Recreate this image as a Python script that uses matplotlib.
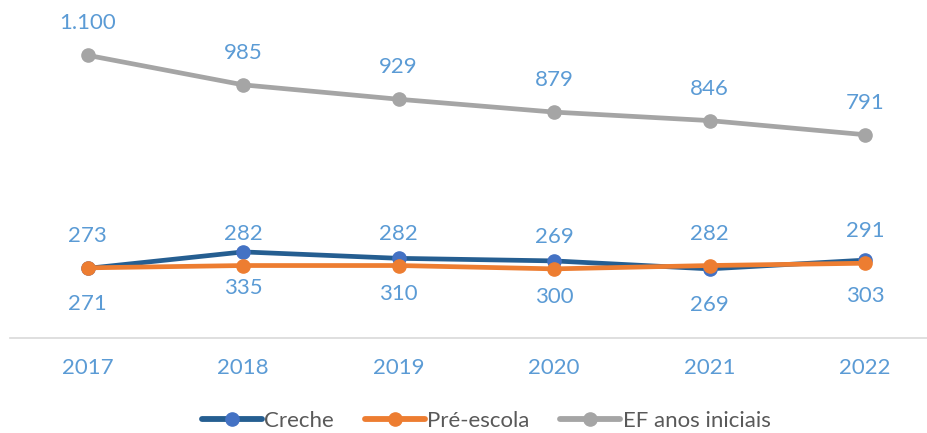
import matplotlib
matplotlib.use("Agg")
import matplotlib.pyplot as plt

years = ["2017", "2018", "2019", "2020", "2021", "2022"]
creche = [271, 335, 310, 300, 269, 303]
pre_escola = [273, 282, 282, 269, 282, 291]
ef_iniciais = [1100, 985, 929, 879, 846, 791]
ef_labels = ["1.100", "985", "929", "879", "846", "791"]

plt.rcParams['font.family'] = ['Lato', 'DejaVu Sans']

W, H = 928, 433
fig = plt.figure(figsize=(W / 100, H / 100), dpi=100)
left_px, right_px = 10, 928
bottom_px = 338
ax = fig.add_axes([left_px / W, (H - bottom_px) / H, (right_px - left_px) / W, bottom_px / H])

x = list(range(len(years)))
lw = 3.4
ms = 9.5
label_color = "#5B9BD5"

ax.plot(x, creche, color="#255E91", lw=lw, marker="o", ms=ms,
        mfc="#4472C4", mec="#4472C4", label="Creche", zorder=3, solid_capstyle="round")
ax.plot(x, pre_escola, color="#ED7D31", lw=lw, marker="o", ms=ms,
        mfc="#ED7D31", mec="#ED7D31", label="Pré-escola", zorder=4, solid_capstyle="round")
ax.plot(x, ef_iniciais, color="#A5A5A5", lw=lw, marker="o", ms=ms,
        mfc="#A5A5A5", mec="#A5A5A5", label="EF anos iniciais", zorder=5, solid_capstyle="round")

fs = 16
for i in x:
    ax.annotate(ef_labels[i], (i, ef_iniciais[i]), xytext=(0, 23), textcoords="offset points",
                ha="center", va="center", color=label_color, fontsize=fs)
    ax.annotate(str(pre_escola[i]), (i, pre_escola[i]), xytext=(0, 23), textcoords="offset points",
                ha="center", va="center", color=label_color, fontsize=fs)
    ax.annotate(str(creche[i]), (i, creche[i]), xytext=(0, -26), textcoords="offset points",
                ha="center", va="center", color=label_color, fontsize=fs)

ax.set_xlim(-0.5, (928 - 88) / 155.4)
ax.set_ylim(0, 338 / 0.257)
ax.set_xticks(x)
ax.set_xticklabels(years, color=label_color, fontsize=fs)
ax.tick_params(axis="x", length=0, pad=14.5)
ax.set_yticks([])
for s in ["top", "right", "left"]:
    ax.spines[s].set_visible(False)
ax.spines["bottom"].set_color("#D9D9D9")
ax.spines["bottom"].set_linewidth(1.2)
ax.patch.set_alpha(0)

leg = fig.legend(loc="center", bbox_to_anchor=(486 / W, 1 - 421 / H), ncol=3, frameon=False,
                 fontsize=fs, handlelength=2.7, handletextpad=0.1, columnspacing=1.4,
                 borderaxespad=0, borderpad=0)
for t in leg.get_texts():
    t.set_color("#595959")
for h in leg.legend_handles:
    h.set_linewidth(4.2)

fig.savefig("out.png", dpi=100)
